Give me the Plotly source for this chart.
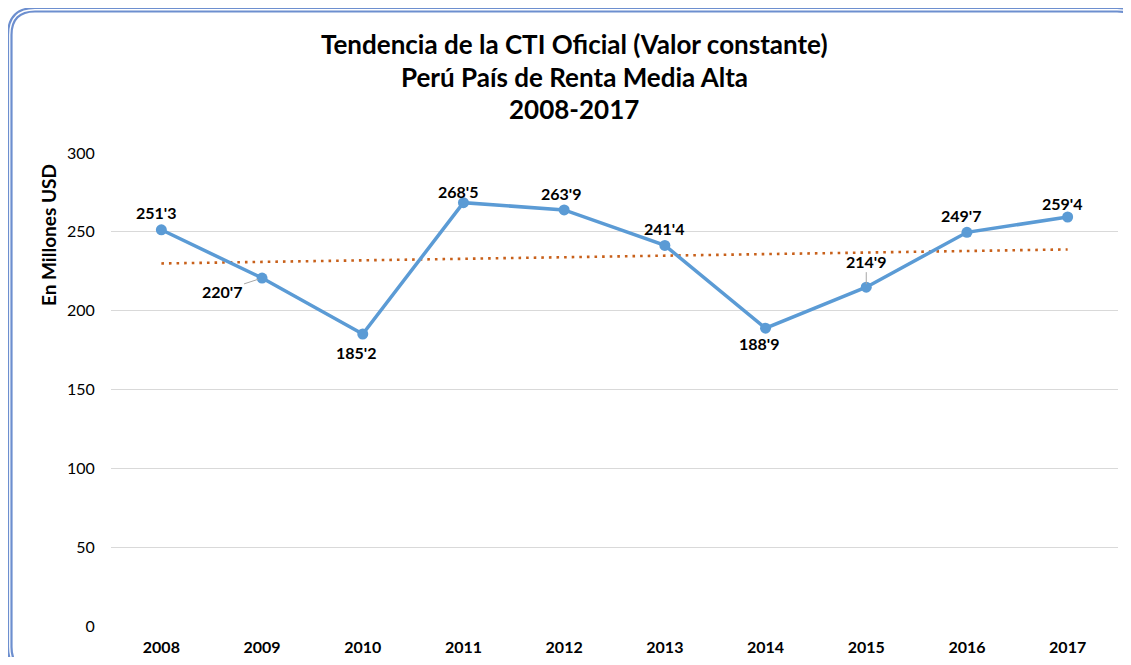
import plotly.graph_objects as go
import numpy as np

years = ['2008', '2009', '2010', '2011', '2012', '2013', '2014', '2015', '2016', '2017']
values = [251.3, 220.7, 185.2, 268.5, 263.9, 241.4, 188.9, 214.9, 249.7, 259.4]
value_labels = ["251'3", "220'7", "185'2", "268'5", "263'9", "241'4", "188'9", "214'9", "249'7", "259'4"]
y_ticks = [0, 50, 100, 150, 200, 250, 300]
title_lines = ["Tendencia de la CTI Oficial (Valor constante)",
               "Perú País de Renta Media Alta",
               "2008-2017"]
y_title = "En Millones USD"

# linear trend line fitted to the series (Excel-style linear trendline)
xi = np.arange(len(values))
slope, intercept = np.polyfit(xi, values, 1)
trend = list(slope * xi + intercept)

# page body has an 8px margin; work in page pixel coords and convert
OFF = 8
W, H = 1131 - 2 * OFF, 665 - 2 * OFF
PL, PR, PT, PB = 111, 1118, 153, 626      # plot area in page pixels
L, T = PL - OFF, PT - OFF
R = W - (PR - OFF)
B = H - (PB - OFF)
PW, PH = PR - PL, PB - PT


def px(x):
    return (x - PL) / PW


def py(y):
    return (PB - y) / PH


def rrect(x0, y0, x1, y1, r):
    def P(x, y):
        return f"{px(x):.5f},{py(y):.5f}"
    return (f"M {P(x0 + r, y0)} L {P(x1 - r, y0)} Q {P(x1, y0)} {P(x1, y0 + r)} "
            f"L {P(x1, y1 - r)} Q {P(x1, y1)} {P(x1 - r, y1)} "
            f"L {P(x0 + r, y1)} Q {P(x0, y1)} {P(x0, y1 - r)} "
            f"L {P(x0, y0 + r)} Q {P(x0, y0)} {P(x0 + r, y0)} Z")


FONT = "Lato"
BLUE = "#5b9bd5"
ORANGE = "#c8601a"

fig = go.Figure()
fig.add_trace(go.Scatter(
    x=years, y=trend, mode="lines",
    line=dict(color=ORANGE, width=2.6, dash="2.6px,5px"),
    hoverinfo="skip", showlegend=False))
fig.add_trace(go.Scatter(
    x=years, y=values, mode="lines+markers",
    line=dict(color=BLUE, width=3.5),
    marker=dict(color=BLUE, size=11),
    showlegend=False))

# data label offsets (pixels) relative to each point
offsets = [(-5, 17), (-40, -13), (-6, -18), (-5, 11), (-3, 16),
           (0, 17), (-6, -15), (0, 26), (-5, 17), (-5, 14)]
annotations = []
for i, (v, lab) in enumerate(zip(values, value_labels)):
    dx, dy = offsets[i]
    base = dict(x=i, y=v, xref="x", yref="y", text=f"<b>{lab}</b>",
                font=dict(family=FONT, size=16, color="#000000"))
    if i in (1, 7):
        base.update(showarrow=True, arrowhead=0, arrowwidth=1, arrowcolor="#a6a6a6",
                    ax=dx, ay=-dy, standoff=4 if i == 1 else 3)
    else:
        base.update(showarrow=False, xshift=dx, yshift=dy)
    annotations.append(base)

title_y = [44, 77, 109]
for line, ty in zip(title_lines, title_y):
    annotations.append(dict(
        x=px(574), y=py(ty), xref="paper", yref="paper", text=f"<b>{line}</b>",
        showarrow=False, xanchor="center", yanchor="middle",
        font=dict(family=FONT, size=26, color="#000000")))

annotations.append(dict(
    x=px(48), y=py(235), xref="paper", yref="paper", text=f"<b>{y_title}</b>",
    showarrow=False, textangle=-90, xanchor="center", yanchor="middle",
    font=dict(family=FONT, size=19, color="#000000")))

shapes = [
    dict(type="path", xref="paper", yref="paper", path=rrect(8, 8, 1144, 674, 27),
         line=dict(color="#6d8fcf", width=2.2), layer="below"),
    dict(type="path", xref="paper", yref="paper", path=rrect(11.5, 11.5, 1140.5, 670.5, 23.5),
         line=dict(color="#6d8fcf", width=2.2), layer="below"),
]

fig.update_layout(
    width=W, height=H,
    margin=dict(l=L, r=R, t=T, b=B, pad=0),
    paper_bgcolor="white", plot_bgcolor="white",
    annotations=annotations, shapes=shapes,
    font=dict(family=FONT, color="#000000"),
    xaxis=dict(type="category", range=[-0.5, 9.5], showgrid=False, showline=False,
               zeroline=False, ticks="outside", ticklen=7, tickcolor="rgba(0,0,0,0)",
               tickfont=dict(family=FONT, size=16, color="#000000"),
               tickprefix="<b>", ticksuffix="</b>", fixedrange=True, automargin=False),
    yaxis=dict(range=[0, 300], tickvals=y_ticks, showgrid=True, gridcolor="#d9d9d9",
               gridwidth=1, zeroline=False, showline=False, ticks="outside", ticklen=12,
               tickcolor="rgba(0,0,0,0)",
               tickfont=dict(family=FONT, size=16, color="#000000"),
               tickprefix="<b>", ticksuffix="</b>", fixedrange=True, automargin=False),
)

fig.write_html("out.html")
